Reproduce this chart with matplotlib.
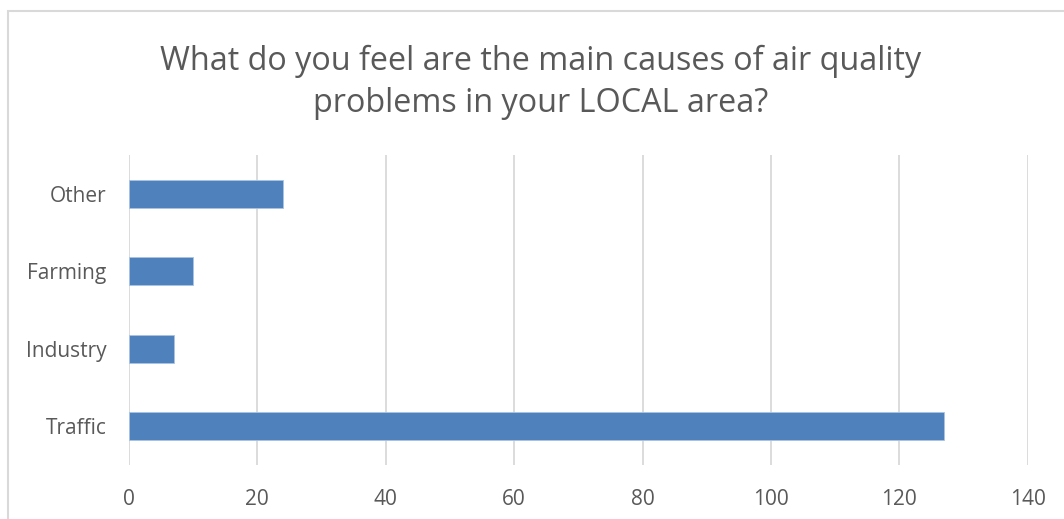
import matplotlib.pyplot as plt
from matplotlib.patches import Rectangle

plt.rcParams['font.family'] = ['Open Sans', 'DejaVu Sans']

# data
causes = ['Traffic', 'Industry', 'Farming', 'Other']
counts = [127, 7, 10, 24]
x_ticks = [0, 20, 40, 60, 80, 100, 120, 140]

bar_color = '#4F81BD'
grid_color = '#D9D9D9'
text_color = '#595959'

fig = plt.figure(figsize=(10.64, 5.19), dpi=100)
ax = fig.add_axes([0.1212, 0.104, 0.8448, 0.5973])

ax.barh(range(len(causes)), counts, height=0.36, color=bar_color,
        edgecolor='#A9C4E4', linewidth=0.6, zorder=3)

ax.set_xlim(0, 140)
ax.set_ylim(-0.5, len(causes) - 0.5)
ax.set_xticks(x_ticks)
ax.set_yticks(range(len(causes)))
ax.set_yticklabels(causes)
ax.xaxis.grid(True, color=grid_color, linewidth=1.3, zorder=0)
for s in ax.spines.values():
    s.set_visible(False)
ax.tick_params(axis='both', length=0, labelsize=15, colors=text_color)
ax.tick_params(axis='x', pad=17)
ax.tick_params(axis='y', pad=16)

fig.text(0.508, 0.841, 'What do you feel are the main causes of air quality\n'
         'problems in your LOCAL area?', ha='center', va='center',
         fontsize=23.3, color=text_color, linespacing=1.35)

# chart frame
fig.patches.append(Rectangle((8 / 1064, -0.1), 1.2, 1 - 11 / 519 + 0.1,
                             transform=fig.transFigure, fill=False,
                             edgecolor=grid_color, linewidth=1.5))

fig.savefig('out.png', dpi=100, facecolor='white')
